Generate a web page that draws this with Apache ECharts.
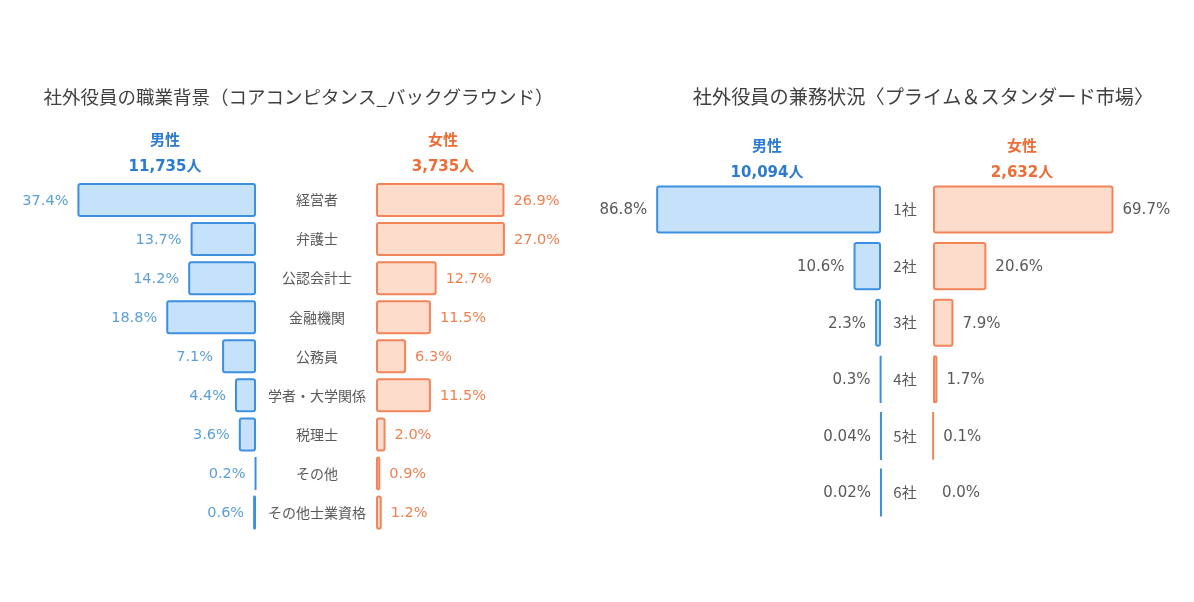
<!DOCTYPE html>
<html>
<head>
<meta charset="utf-8">
<script src="https://cdn.jsdelivr.net/npm/echarts@6/dist/echarts.min.js"></script>
<style>
html,body{margin:0;padding:0;background:#fff;}
#chart{width:1194px;height:602px;}
</style>
</head>
<body>
<div id="chart"></div>
<script>
// ---- Data ----
var leftTitle = '社外役員の職業背景（コアコンピタンス_バックグラウンド）';
var rightTitle = '社外役員の兼務状況〈プライム＆スタンダード市場〉';
var genderLabels = ['男性', '女性'];
var leftTotals = ['11,735人', '3,735人'];
var rightTotals = ['10,094人', '2,632人'];

var careerCategories = ['経営者', '弁護士', '公認会計士', '金融機関', '公務員', '学者・大学関係', '税理士', 'その他', 'その他士業資格'];
var careerMale = [37.4, 13.7, 14.2, 18.8, 7.1, 4.4, 3.6, 0.2, 0.6];
var careerFemale = [26.9, 27.0, 12.7, 11.5, 6.3, 11.5, 2.0, 0.9, 1.2];

var jobsCategories = ['1社', '2社', '3社', '4社', '5社', '6社'];
var jobsMale = [86.8, 10.6, 2.3, 0.3, 0.04, 0.02];
var jobsFemale = [69.7, 20.6, 7.9, 1.7, 0.1, 0.0];

// ---- Styles ----
var FONT = '"Noto Sans CJK JP", "Noto Sans", sans-serif';
var NUMFONT = '"DejaVu Sans", "Noto Sans CJK JP", sans-serif';
var BLUE_FILL = '#c6e2fa', BLUE_LINE = '#3d8fe0', BLUE_TEXT = '#2b7bd0', BLUE_LABEL = '#5a9fd8';
var ORANGE_FILL = '#fddccc', ORANGE_LINE = '#f2845a', ORANGE_TEXT = '#ee6c36', ORANGE_LABEL = '#f07f50';
var GRAY = '#595959';

function fmt(v) {
  v = Number(v);
  return (v > 0 && v < 0.1 ? v.toFixed(2) : v.toFixed(1)) + '%';
}
function items(arr) {
  return arr.map(function (v) {
    return v === 0 ? { value: v, itemStyle: { borderWidth: 0 } } : v;
  });
}

var chart = echarts.init(document.getElementById('chart'));

var grids = [
  { right: 1194 - 256, width: 191, top: 180.5, height: 351.6 },
  { left: 376, width: 191, top: 180.5, height: 351.6 },
  { right: 1194 - 881, width: 259, top: 181.2, height: 339.6 },
  { left: 933, width: 259, top: 181.2, height: 339.6 }
];

function xAx(i, max, inverse) {
  return {
    gridIndex: i, type: 'value', min: 0, max: max, inverse: inverse,
    show: false, splitLine: { show: false }
  };
}
function yAx(i, cats, showLabel, margin, fs) {
  return {
    gridIndex: i, type: 'category', data: cats, inverse: true,
    axisLine: { show: false }, axisTick: { show: false },
    axisLabel: {
      show: showLabel, align: 'center', margin: margin,
      color: GRAY, fontSize: fs, fontFamily: FONT
    }
  };
}

function barSeries(i, data, fill, line, labelColor, pos, gap, fs) {
  return {
    type: 'bar', xAxisIndex: i, yAxisIndex: i, data: items(data),
    barCategoryGap: gap, silent: true, animation: false,
    itemStyle: { color: fill, borderColor: line, borderWidth: 2, borderRadius: 2 },
    label: {
      show: true, position: pos, distance: 9, offset: [0, 1], color: labelColor,
      fontSize: fs, fontFamily: NUMFONT,
      formatter: function (p) { return fmt(p.value); }
    }
  };
}

function headTitle(text, x, y, color, size, weight, family) {
  return {
    text: text, left: x, top: y, textAlign: 'center', padding: 0,
    textStyle: { color: color, fontSize: size, fontWeight: weight, fontFamily: family || FONT }
  };
}

chart.setOption({
  backgroundColor: '#ffffff',
  title: [
    headTitle(leftTitle, 298.5, 88, '#404040', 18.5, 'normal'),
    headTitle(rightTitle, 923, 87, '#404040', 19.2, 'normal'),
    headTitle(genderLabels[0], 165, 132, BLUE_TEXT, 15, 'bold'),
    headTitle(leftTotals[0], 165, 160, BLUE_TEXT, 15, 'bold', NUMFONT),
    headTitle(genderLabels[1], 443, 132, ORANGE_TEXT, 15, 'bold'),
    headTitle(leftTotals[1], 443, 160, ORANGE_TEXT, 15, 'bold', NUMFONT),
    headTitle(genderLabels[0], 767, 138, BLUE_TEXT, 15, 'bold'),
    headTitle(rightTotals[0], 767, 166, BLUE_TEXT, 15, 'bold', NUMFONT),
    headTitle(genderLabels[1], 1022, 138, ORANGE_TEXT, 15, 'bold'),
    headTitle(rightTotals[1], 1022, 166, ORANGE_TEXT, 15, 'bold', NUMFONT)
  ],
  grid: grids,
  xAxis: [xAx(0, 40, true), xAx(1, 40, false), xAx(2, 100, true), xAx(3, 100, false)],
  yAxis: [
    yAx(0, careerCategories, false, 0, 14),
    yAx(1, careerCategories, true, 59, 14),
    yAx(2, jobsCategories, false, 0, 15),
    yAx(3, jobsCategories, true, 28, 15)
  ],
  series: [
    barSeries(0, careerMale, BLUE_FILL, BLUE_LINE, BLUE_LABEL, 'left', '13%', 14.5),
    barSeries(1, careerFemale, ORANGE_FILL, ORANGE_LINE, ORANGE_LABEL, 'right', '13%', 14.5),
    barSeries(2, jobsMale, BLUE_FILL, BLUE_LINE, GRAY, 'left', '15%', 15),
    barSeries(3, jobsFemale, ORANGE_FILL, ORANGE_LINE, GRAY, 'right', '15%', 15)
  ]
});
</script>
</body>
</html>
